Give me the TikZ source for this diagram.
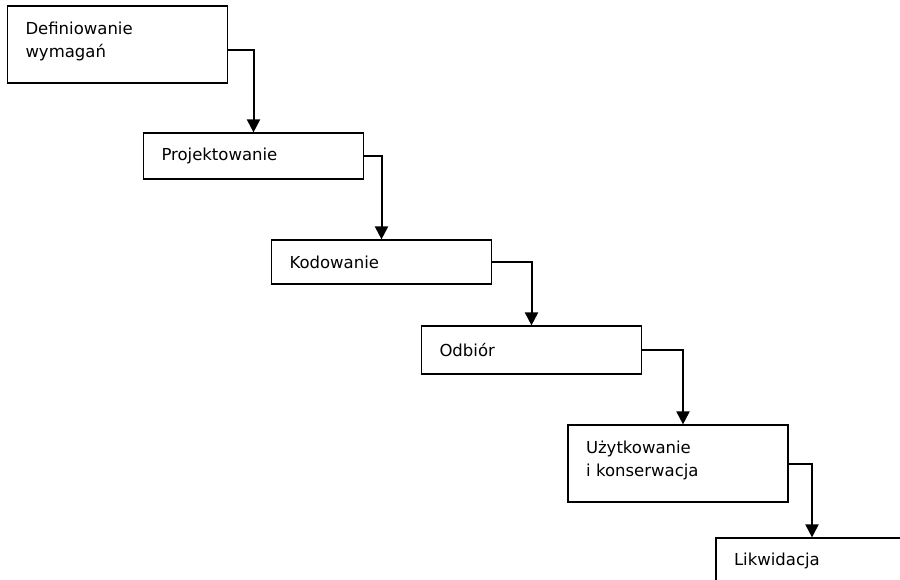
\documentclass[tikz,border=0pt]{standalone}
\usepackage{fontspec}
\setmainfont{DejaVu Sans}
\usetikzlibrary{arrows.meta}

\begin{document}
\begin{tikzpicture}[x=1pt,y=-1pt,
  etap/.style={draw,line width=1.2pt,rectangle,inner ysep=0pt,inner xsep=18pt,
    text width=184pt,align=left,font=\fontsize{16.5}{22.5}\selectfont},
  dwie/.style={etap,minimum height=77pt,text depth=32pt},
  strzalka/.style={line width=2pt,-{Triangle[width=13pt,length=13pt]}}]
\useasboundingbox (0,0) rectangle (900,579);
% etapy
\node[dwie] (d1) at (117.5,44.5) {Definiowanie\\wymagań};
\node[etap,minimum height=46pt] (d2) at (253.5,156) {Projektowanie};
\node[etap,minimum height=44pt] (d3) at (381.5,262) {Kodowanie};
\node[etap,minimum height=48pt] (d4) at (531.5,350) {Odbiór};
\node[dwie] (d5) at (678,463.5) {Użytkowanie\\i konserwacja};
\node[etap,minimum height=46pt] (d6) at (826,561) {Likwidacja};
% przejscia
\draw[strzalka] ([yshift=-5.5pt]d1.east) -| (d2.north);
\draw[strzalka] (d2.east) -| (d3.north);
\draw[strzalka] (d3.east) -| (d4.north);
\draw[strzalka] (d4.east) -| ([xshift=5pt]d5.north);
\draw[strzalka] (d5.east) -| ([xshift=-14pt]d6.north);
\end{tikzpicture}
\end{document}
